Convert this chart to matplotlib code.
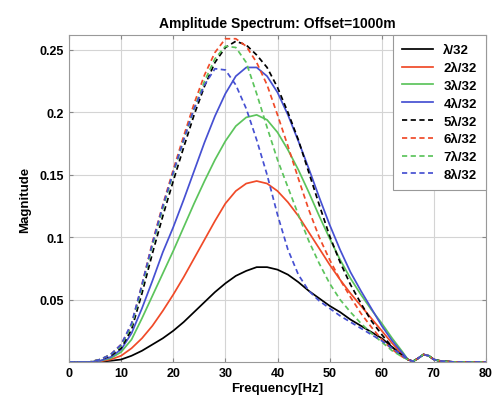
import matplotlib
matplotlib.use("Agg")
import matplotlib.pyplot as plt

plt.rcParams['font.family'] = ['Liberation Sans', 'DejaVu Sans']
plt.rcParams['font.weight'] = 'bold'

freq = [0, 2, 4, 6, 8, 10, 12, 14, 16, 18, 20, 22, 24, 26, 28, 30, 32, 34, 36, 38,
        40, 42, 44, 46, 48, 50, 52, 54, 56, 58, 60, 62, 64,
        65, 66, 67, 68, 69, 70, 71, 72, 74, 76, 78, 80]

tail = [0.002, 0.0005, 0.003, 0.006, 0.005, 0.002, 0.001, 0.0005, 0, 0, 0, 0]

s1 = [0, 0, 0, 0.0003, 0.001, 0.002, 0.005, 0.009, 0.014, 0.019, 0.025, 0.032, 0.040, 0.048, 0.056, 0.063, 0.069, 0.073, 0.076, 0.076,
      0.074, 0.070, 0.064, 0.057, 0.051, 0.045, 0.040, 0.034, 0.029, 0.024, 0.019, 0.012, 0.005] + tail
s2 = [0, 0, 0, 0.0005, 0.002, 0.005, 0.011, 0.019, 0.029, 0.041, 0.054, 0.068, 0.083, 0.098, 0.113, 0.127, 0.137, 0.143, 0.145, 0.143,
      0.137, 0.128, 0.117, 0.104, 0.091, 0.078, 0.066, 0.055, 0.045, 0.035, 0.025, 0.015, 0.006] + tail
s3 = [0, 0, 0, 0.001, 0.003, 0.008, 0.018, 0.035, 0.053, 0.071, 0.089, 0.108, 0.127, 0.145, 0.162, 0.177, 0.189, 0.196, 0.198, 0.194,
      0.184, 0.170, 0.154, 0.136, 0.117, 0.099, 0.082, 0.067, 0.054, 0.042, 0.031, 0.019, 0.008] + tail
s4 = [0, 0, 0, 0.001, 0.004, 0.010, 0.023, 0.043, 0.065, 0.088, 0.108, 0.130, 0.153, 0.176, 0.197, 0.215, 0.229, 0.236, 0.236, 0.229,
      0.216, 0.198, 0.177, 0.155, 0.132, 0.110, 0.090, 0.072, 0.057, 0.043, 0.029, 0.017, 0.007] + tail
s5 = [0, 0, 0, 0.002, 0.005, 0.011, 0.026, 0.055, 0.087, 0.117, 0.145, 0.172, 0.198, 0.221, 0.240, 0.252, 0.257, 0.254, 0.246, 0.236,
      0.220, 0.200, 0.178, 0.152, 0.126, 0.101, 0.080, 0.062, 0.047, 0.033, 0.022, 0.012, 0.005] + tail
s6 = [0, 0, 0, 0.002, 0.006, 0.014, 0.030, 0.062, 0.096, 0.126, 0.154, 0.181, 0.207, 0.230, 0.248, 0.259, 0.259, 0.253, 0.240, 0.222,
      0.198, 0.173, 0.147, 0.122, 0.100, 0.082, 0.066, 0.052, 0.039, 0.028, 0.018, 0.010, 0.004] + tail
s7 = [0, 0, 0, 0.002, 0.006, 0.013, 0.029, 0.060, 0.093, 0.123, 0.151, 0.178, 0.203, 0.225, 0.243, 0.253, 0.252, 0.240, 0.215, 0.188,
      0.162, 0.140, 0.118, 0.097, 0.079, 0.063, 0.050, 0.040, 0.031, 0.023, 0.016, 0.009, 0.004] + tail
s8 = [0, 0, 0, 0.002, 0.006, 0.014, 0.031, 0.062, 0.095, 0.125, 0.152, 0.178, 0.203, 0.222, 0.235, 0.234, 0.222, 0.203, 0.178, 0.150,
      0.118, 0.090, 0.070, 0.057, 0.049, 0.043, 0.037, 0.032, 0.027, 0.022, 0.017, 0.011, 0.005] + tail

series = [s1, s2, s3, s4, s5, s6, s7, s8]
labels = ['λ/32', '2λ/32', '3λ/32', '4λ/32', '5λ/32', '6λ/32', '7λ/32', '8λ/32']
colors = ['black', '#f04a28', '#5cc45c', '#4650d2', 'black', '#f04a28', '#5cc45c', '#4650d2']
styles = ['-', '-', '-', '-', '--', '--', '--', '--']

xticks = [0, 10, 20, 30, 40, 50, 60, 70, 80]
yticks = [0.05, 0.1, 0.15, 0.2, 0.25]
yticklabels = ['0.05', '0.1', '0.15', '0.2', '0.25']

fig = plt.figure(figsize=(4.92, 4.06), dpi=100)
ax = fig.add_axes([69/492, 43/406, 417/492, 327/406])

for s, lab, c, ls in zip(series, labels, colors, styles):
    ax.plot(freq, s, color=c, linestyle=ls, linewidth=1.25, label=lab,
            dashes=(3, 2) if ls == '--' else (None, None))

ax.set_xlim(0, 80)
ax.set_ylim(0, 0.262)
ax.set_xticks(xticks)
ax.set_yticks(yticks)
ax.set_yticklabels(yticklabels)
ax.grid(True, color='#d4d4d4', linewidth=0.8)
ax.tick_params(direction='in', top=True, right=True, labelsize=9, length=3, color='#888888')
for sp in ax.spines.values():
    sp.set_color('#999999')
    sp.set_linewidth(0.8)

ax.set_title('Amplitude Spectrum: Offset=1000m', fontsize=10, fontweight='bold', pad=6)
ax.set_xlabel('Frequency[Hz]', fontsize=9.5, fontweight='bold', labelpad=2)
ax.set_ylabel('Magnitude', fontsize=9.5, fontweight='bold', labelpad=6)

leg = ax.legend(loc='upper right', borderaxespad=0.0, fontsize=9.5, fancybox=False,
                edgecolor='#999999', framealpha=1.0, handlelength=2.3, labelspacing=0.42,
                borderpad=0.7, handletextpad=0.8)
leg.get_frame().set_linewidth(0.8)

fig.savefig('out.png', dpi=100)
